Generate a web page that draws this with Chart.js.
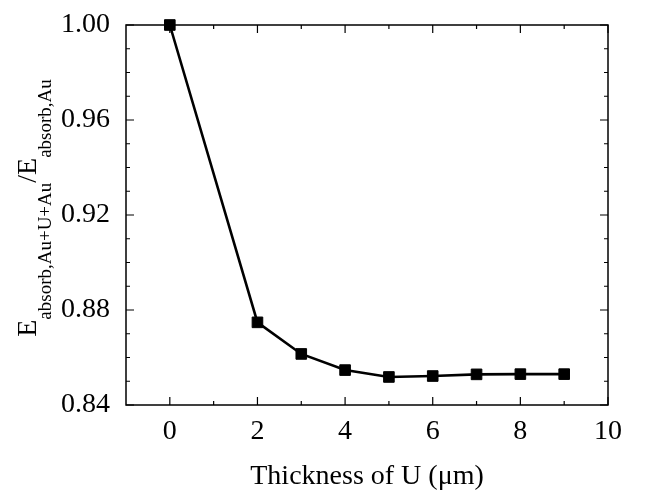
<!DOCTYPE html>
<html>
<head>
<meta charset="utf-8">
<script src="https://cdn.jsdelivr.net/npm/chart.js@4"></script>
<style>
  body { margin: 0; background: #fff; }
</style>
</head>
<body>
<canvas id="myChart" width="662" height="493"></canvas>
<script>
const thickness = [0, 2, 3, 4, 5, 6, 7, 8, 9];
const ratio = [1.000, 0.8748, 0.8615, 0.8547, 0.8518, 0.8522, 0.8529, 0.8530, 0.8530];
const xTicks = [0, 2, 4, 6, 8, 10];
const yTicks = [0.84, 0.88, 0.92, 0.96, 1.00];
const xMinor = [1, 3, 5, 7, 9];
const yMinor = [0.85, 0.86, 0.87, 0.89, 0.90, 0.91, 0.93, 0.94, 0.95, 0.97, 0.98, 0.99];

const serif = "'Liberation Serif', 'Times New Roman', serif";

// box round the plot with inward ticks on all four sides
const frame = {
  id: 'frame',
  afterDatasetsDraw(chart) {
    const { ctx, chartArea: a, scales: { x, y } } = chart;
    ctx.save();
    ctx.strokeStyle = '#000';
    ctx.lineWidth = 1.5;
    ctx.strokeRect(a.left, a.top, a.right - a.left, a.bottom - a.top);
    ctx.lineWidth = 1.2;
    ctx.beginPath();
    const xt = (v, len) => {
      const px = x.getPixelForValue(v);
      ctx.moveTo(px, a.bottom); ctx.lineTo(px, a.bottom - len);
      ctx.moveTo(px, a.top); ctx.lineTo(px, a.top + len);
    };
    const yt = (v, len) => {
      const py = y.getPixelForValue(v);
      ctx.moveTo(a.left, py); ctx.lineTo(a.left + len, py);
      ctx.moveTo(a.right, py); ctx.lineTo(a.right - len, py);
    };
    xTicks.forEach(v => xt(v, 8));
    xMinor.forEach(v => xt(v, 4));
    yTicks.forEach(v => yt(v, 8));
    yMinor.forEach(v => yt(v, 4));
    ctx.stroke();
    ctx.restore();
  }
};

// y title with subscripts, rotated
const yTitle = {
  id: 'yTitle',
  afterDraw(chart) {
    const { ctx, chartArea: a } = chart;
    const parts = [
      { t: 'E', size: 28, dy: 0 },
      { t: 'absorb,Au+U+Au', size: 19, dy: 15 },
      { t: '/', size: 28, dy: 0 },
      { t: 'E', size: 28, dy: 0 },
      { t: 'absorb,Au', size: 19, dy: 15 }
    ];
    ctx.save();
    ctx.fillStyle = '#000';
    ctx.textBaseline = 'alphabetic';
    let total = 0;
    parts.forEach(p => {
      ctx.font = p.size + 'px ' + serif;
      p.w = ctx.measureText(p.t).width;
      total += p.w;
    });
    const cy = (a.top + a.bottom) / 2 - 7;
    ctx.translate(36, cy);
    ctx.rotate(-Math.PI / 2);
    let cx = -total / 2;
    parts.forEach(p => {
      ctx.font = p.size + 'px ' + serif;
      ctx.fillText(p.t, cx, p.dy);
      cx += p.w;
    });
    ctx.restore();
  }
};

const data = {
  datasets: [
    {
      data: thickness.map((t, i) => ({ x: t, y: ratio[i] })),
      borderColor: '#000',
      backgroundColor: '#000',
      borderWidth: 2.6,
      pointStyle: 'rect',
      pointRadius: 7.5,
      pointBorderWidth: 1,
      pointBackgroundColor: '#000',
      tension: 0,
      clip: false
    }
  ]
};

const config = {
  type: 'line',
  data: data,
  options: {
    responsive: false,
    animation: false,
    layout: {
      padding: { left: 0, top: 25, right: 54, bottom: 0 }
    },
    plugins: {
      legend: { display: false },
      tooltip: { enabled: false }
    },
    scales: {
      x: {
        type: 'linear',
        min: -1,
        max: 10,
        grid: { display: false },
        border: { display: false },
        afterBuildTicks: s => { s.ticks = xTicks.map(v => ({ value: v })); },
        afterFit: s => { s.height = 88; },
        ticks: {
          color: '#000',
          padding: 2,
          font: { family: serif, size: 28 }
        },
        title: {
          display: true,
          text: 'Thickness of U (\u03bcm)',
          color: '#000',
          padding: { top: 0, bottom: 0 },
          font: { family: serif, size: 28 }
        }
      },
      y: {
        type: 'linear',
        min: 0.84,
        max: 1.00,
        grid: { display: false },
        border: { display: false },
        afterBuildTicks: s => { s.ticks = yTicks.map(v => ({ value: v })); },
        afterFit: s => { s.width = 126; },
        ticks: {
          color: '#000',
          padding: 8,
          font: { family: serif, size: 28 },
          callback: v => v.toFixed(2)
        }
      }
    }
  },
  plugins: [frame, yTitle]
};

new Chart(document.getElementById('myChart'), config);
</script>
</body>
</html>
